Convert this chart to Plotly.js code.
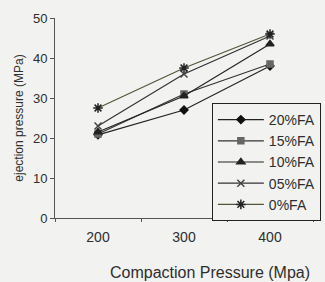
<!DOCTYPE html>
<html><head><meta charset="utf-8">
<script src="https://cdn.plot.ly/plotly-3.0.1.min.js"></script>
<style>html,body{margin:0;padding:0;background:#f2f2f0;}#c{width:325px;height:282px;}</style>
</head><body><div id="c"></div>
<script>
const categories = ['200', '300', '400'];
const seriesNames = ['20%FA', '15%FA', '10%FA', '05%FA', '0%FA'];
const fa20 = [20.8, 27, 38];
const fa15 = [21, 31, 38.5];
const fa10 = [21.5, 30.5, 43.5];
const fa05 = [23, 36, 45.5];
const fa0 = [27.5, 37.5, 46];
const yTicks = [0, 10, 20, 30, 40, 50];

const values = [fa20, fa15, fa10, fa05, fa0];
const symbols = ['diamond', 'square', 'triangle-up', 'x-thin-open', 'asterisk-open'];
const mcolors = ['#111', '#666', '#222', '#444', '#222'];
const lcolors = ['#222', '#333', '#222', '#333', '#55553a'];
const sizes = [6, 6, 7, 7, 8];

const traces = seriesNames.map((n, i) => ({
  x: categories, y: values[i], name: n, type: 'scatter', mode: 'lines+markers',
  line: {color: lcolors[i], width: 1.2},
  marker: {symbol: symbols[i], size: sizes[i], color: mcolors[i], line: {color: mcolors[i], width: 1.5}}
}));

const layout = {
  width: 325, height: 282,
  paper_bgcolor: '#f2f2f0', plot_bgcolor: '#f2f2f0',
  margin: {l: 55, r: 12, t: 18, b: 64, autoexpand: false},
  font: {family: 'Liberation Sans, Arial, sans-serif', color: '#2e2e2e', size: 13},
  xaxis: {type: 'category', range: [-0.5, 2.5], showline: true, linecolor: '#555', linewidth: 1,
          ticks: 'outside', tickson: 'boundaries', ticklen: 3, tickcolor: '#555', showgrid: false, zeroline: false,
          tickfont: {size: 14}, ticklabelstandoff: 6},
  yaxis: {range: [0, 50], tickvals: yTicks, showline: true, linecolor: '#555', linewidth: 1,
          ticks: 'outside', ticklen: 4, tickcolor: '#555', showgrid: false, zeroline: false,
          tickfont: {size: 13},
          title: {text: 'ejection pressure (MPa)', font: {size: 12}, standoff: 6}},
  showlegend: true,
  legend: {x: 0.608, y: 0.575, xanchor: 'left', yanchor: 'top', bgcolor: '#f2f2f0',
           bordercolor: '#222', borderwidth: 1, font: {size: 14}, tracegroupgap: 0, itemwidth: 46},
  annotations: [{text: 'Compaction Pressure (Mpa)', xref: 'paper', yref: 'paper', x: 0.6, y: -0.27,
                 xanchor: 'center', yanchor: 'middle', showarrow: false, font: {size: 16}}]
};
Plotly.newPlot('c', traces, layout, {displayModeBar: false, staticPlot: true});
</script></body></html>
